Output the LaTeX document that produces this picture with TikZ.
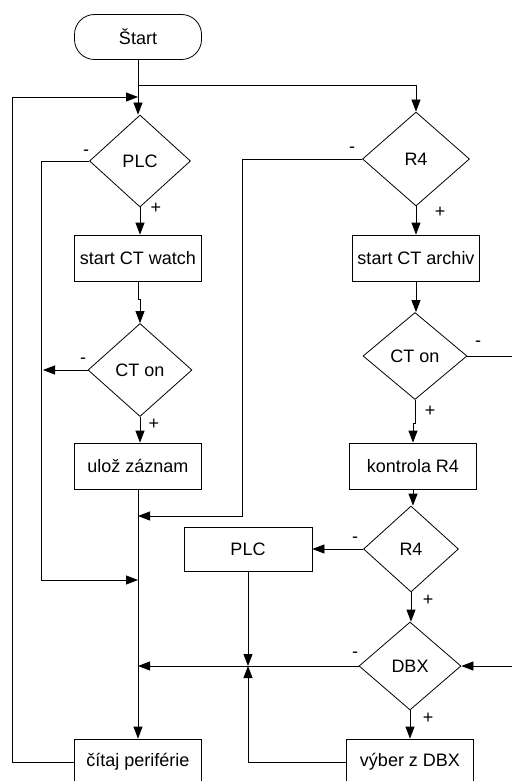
\documentclass[tikz,border=0pt]{standalone}
\usepackage{fontspec}
\setmainfont{Liberation Sans}
\usetikzlibrary{shapes.geometric,arrows.meta}
\begin{document}
\begin{tikzpicture}[x=1pt,y=-1pt,
  every node/.style={font=\fontsize{18}{21}\selectfont},
  box/.style={draw, line width=0.8pt, rectangle, minimum width=127pt, minimum height=46pt, inner sep=0pt},
  term/.style={draw, line width=0.8pt, rectangle, rounded corners=20pt, minimum width=127pt, minimum height=45pt, inner sep=0pt},
  cond/.style={draw, line width=0.8pt, diamond, inner sep=0pt},
  sign/.style={inner sep=0pt},
  line/.style={draw, line width=0.8pt},
  arr/.style={line, -{Triangle[length=12pt,width=9pt]}}
]
\useasboundingbox (0,0) rectangle (511,781);

% left column
\node[term] (start) at (138,37) {Štart};
\node[cond, minimum width=101pt, minimum height=92pt] (plc) at (140,161) {PLC};
\node[box] (watch) at (138,258) {start CT watch};
\node[cond, minimum width=104pt, minimum height=93pt] (ct1) at (140,370) {CT on};
\node[box] (uloz) at (138,466) {ulož záznam};
\node[box] (citaj) at (138,762) {čítaj periférie};

% right column
\node[cond, minimum width=107pt, minimum height=94pt] (r4a) at (416,159) {R4};
\node[box] (archiv) at (416,258) {start CT archiv};
\node[cond, minimum width=104pt, minimum height=87pt] (ct2) at (415,356) {CT on};
\node[box] (kontr) at (413,466) {kontrola R4};
\node[cond, minimum width=95pt, minimum height=86pt] (r4b) at (411,549) {R4};
\node[cond, minimum width=102pt, minimum height=88pt] (dbx) at (410,666) {DBX};
\node[box] (vyber) at (410,762) {výber z DBX};
\node[box, minimum width=128pt, minimum height=44pt] (plcbox) at (248,549) {PLC};

% junction points
\coordinate (split) at (138,85);
\coordinate (back) at (138,97);
\coordinate (join1) at (138,516);
\coordinate (join2) at (138,580);
\coordinate (join3) at (138,666);
\coordinate (leftbus) at (43,370);
\coordinate (mid) at (248,666);
\coordinate (outR) at (515,356);
\coordinate (inR) at (515,666);

% branch labels
\node[sign] (plcm) at (86,153) {-};
\node[sign] (plcp) at (156,208) {+};
\node[sign] (ct1m) at (83,361) {-};
\node[sign] (ct1p) at (154,424) {+};
\node[sign] (r4am) at (352,150) {-};
\node[sign] (r4ap) at (440,212) {+};
\node[sign] (ct2m) at (478,344) {-};
\node[sign] (ct2p) at (430,411) {+};
\node[sign] (r4bm) at (355,540) {-};
\node[sign] (r4bp) at (428,600) {+};
\node[sign] (dbxm) at (355,655) {-};
\node[sign] (dbxp) at (428,718) {+};

% connectors, left column
\draw[arr] (start.south) -- (start.south |- plc.north);
\draw[arr] (split) -| (r4a.north);
\draw[arr] (citaj.west) -- ++(-62,0) |- (back);
\draw[arr] (plc.west) -- ++(-47.5,0) |- (join2);
\draw[arr] (plc.south) -- (plc.south |- watch.north);
\draw[arr] (watch.south) -- ++(0,18) -| (ct1.north);
\draw[arr] (ct1.west) -- (leftbus);
\draw[arr] (ct1.south) -- (ct1.south |- uloz.north);
\draw[arr] (uloz.south) -- (citaj.north);

% connectors, right column
\draw[arr] (r4a.west) -- ++(-119.5,0) |- (join1);
\draw[arr] (r4a.south) -- (archiv.north);
\draw[arr] (archiv.south) -- (archiv.south |- ct2.north);
\draw[line] (ct2.east) -- (outR);
\draw[arr] (ct2.south) -- ++(0,23) -| (kontr.north);
\draw[arr] (kontr.south) -- (kontr.south |- r4b.north);
\draw[arr] (r4b.west) -- (plcbox.east);
\draw[arr] (r4b.south) -- (r4b.south |- dbx.north);
\draw[arr] (dbx.west) -- (join3);
\draw[arr] (dbx.south) -- (vyber.north);
\draw[arr] (plcbox.south) -- (mid);
\draw[arr] (vyber.west) -| (mid);
\draw[arr] (inR) -- (dbx.east);
\end{tikzpicture}
\end{document}
